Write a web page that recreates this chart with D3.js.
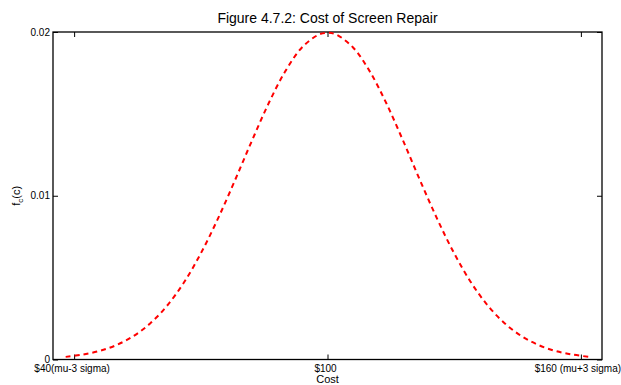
<!DOCTYPE html>
<html>
<head>
<meta charset="utf-8">
<script src="https://cdn.jsdelivr.net/npm/d3@7"></script>
<style>
  html, body { margin: 0; padding: 0; background: #fff; }
  svg { display: block; font-family: "Liberation Sans", Arial, Helvetica, sans-serif; }
</style>
</head>
<body>
<svg id="chart" width="621" height="385"></svg>
<script>
// Repair cost (dollars) and its probability density
const costs = [38, 42, 46, 50, 54, 58, 62, 66, 70, 74, 78, 82, 86, 90, 94, 98, 100,
               102, 106, 110, 114, 118, 122, 126, 130, 134, 138, 142, 146, 150, 154, 158, 162];
const density = [0.00016, 0.00030, 0.00052, 0.00088, 0.00142, 0.00220, 0.00328, 0.00470,
                 0.00648, 0.00857, 0.01089, 0.01330, 0.01561, 0.01760, 0.01907, 0.01985, 0.01995,
                 0.01985, 0.01907, 0.01760, 0.01561, 0.01330, 0.01089, 0.00857, 0.00648,
                 0.00470, 0.00328, 0.00220, 0.00142, 0.00088, 0.00052, 0.00030, 0.00016];

const xTickValues = [40, 100, 160];
const xTickLabels = ["$40(mu-3 sigma)", "$100", "$160 (mu+3 sigma)"];
const yTickValues = [0, 0.01, 0.02];
const yTickLabels = ["0", "0.01", "0.02"];

const titleText = "Figure 4.7.2: Cost of Screen Repair";
const xLabelText = "Cost";

const svg = d3.select("#chart");
const plotL = 53, plotR = 602, plotT = 32, plotB = 359.5;

const x = d3.scaleLinear().domain([35, 165]).range([plotL, plotR]);
const y = d3.scaleLinear().domain([0, 0.02]).range([plotB, plotT]);

// frame
svg.append("rect")
  .attr("x", plotL).attr("y", plotT)
  .attr("width", plotR - plotL).attr("height", plotB - plotT)
  .attr("fill", "none").attr("stroke", "#000").attr("stroke-width", 1.3);

const tick = 5;

// bottom axis with inward ticks
const xAxis = svg.append("g").attr("transform", `translate(0,${plotB})`)
  .call(d3.axisBottom(x).tickValues(xTickValues)
    .tickFormat((d, i) => xTickLabels[i]).tickSizeInner(-tick).tickSizeOuter(0));
xAxis.select(".domain").remove();
xAxis.selectAll("line").attr("stroke", "#000").attr("stroke-width", 1);
xAxis.selectAll("text").attr("y", 12.5).attr("dy", null)
  .attr("dx", (d, i) => i === xTickValues.length - 1 ? -3.5 : -2.5)
  .attr("font-size", 10).attr("fill", "#000");

// top axis ticks only
const xTop = svg.append("g").attr("transform", `translate(0,${plotT})`)
  .call(d3.axisTop(x).tickValues(xTickValues).tickFormat("").tickSizeInner(-tick).tickSizeOuter(0));
xTop.select(".domain").remove();
xTop.selectAll("line").attr("stroke", "#000").attr("stroke-width", 1);

// left axis with labels
const yAxis = svg.append("g").attr("transform", `translate(${plotL},0)`)
  .call(d3.axisLeft(y).tickValues(yTickValues)
    .tickFormat((d, i) => yTickLabels[i]).tickSizeInner(-tick).tickSizeOuter(0));
yAxis.select(".domain").remove();
yAxis.selectAll("line").attr("stroke", "#000").attr("stroke-width", 1);
yAxis.selectAll("text").attr("x", -3).attr("dy", "0.3em")
  .attr("font-size", 10).attr("fill", "#000");

// right axis ticks only
const yRight = svg.append("g").attr("transform", `translate(${plotR},0)`)
  .call(d3.axisRight(y).tickValues(yTickValues).tickFormat("").tickSizeInner(-tick).tickSizeOuter(0));
yRight.select(".domain").remove();
yRight.selectAll("line").attr("stroke", "#000").attr("stroke-width", 1);

// density curve
const line = d3.line()
  .x((d, i) => x(costs[i]))
  .y(d => y(d))
  .curve(d3.curveCatmullRom);

svg.append("path")
  .datum(density)
  .attr("d", line)
  .attr("fill", "none")
  .attr("stroke", "#ff0000")
  .attr("stroke-width", 2)
  .attr("stroke-dasharray", "5,4");

// title
svg.append("text")
  .attr("x", (plotL + plotR) / 2).attr("y", 23)
  .attr("text-anchor", "middle")
  .attr("font-size", 14).attr("fill", "#000")
  .text(titleText);

// x axis label
svg.append("text")
  .attr("x", (plotL + plotR) / 2).attr("y", 383)
  .attr("text-anchor", "middle")
  .attr("font-size", 11).attr("fill", "#000")
  .text(xLabelText);

// y axis label f_c(c)
const yl = svg.append("text")
  .attr("transform", `translate(20,${(plotT + plotB) / 2}) rotate(-90)`)
  .attr("text-anchor", "middle")
  .attr("font-size", 11).attr("fill", "#000");
yl.append("tspan").text("f");
yl.append("tspan").attr("font-size", 8).attr("dy", 3).text("c");
yl.append("tspan").attr("dy", -3).text("(c)");
</script>
</body>
</html>
